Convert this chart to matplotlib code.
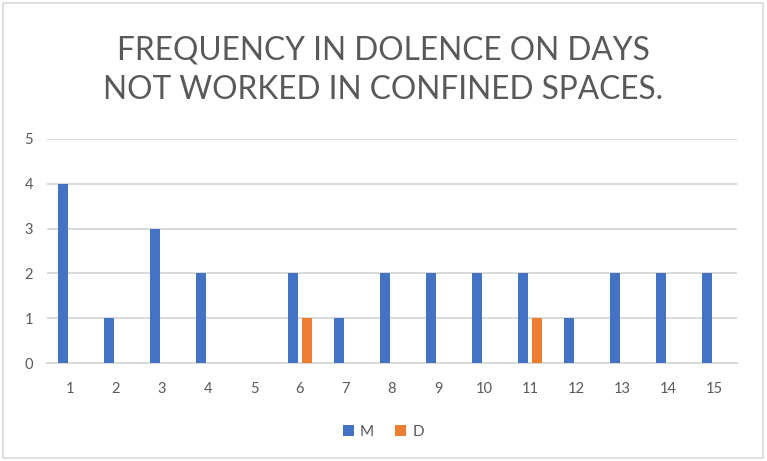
import matplotlib
matplotlib.use("Agg")
import matplotlib.pyplot as plt
import numpy as np
from matplotlib.patches import Rectangle

days = [str(i) for i in range(1, 16)]
m_values = [4, 1, 3, 2, 0, 2, 1, 2, 2, 2, 2, 1, 2, 2, 2]
d_values = [0, 0, 0, 0, 0, 1, 0, 0, 0, 0, 1, 0, 0, 0, 0]
y_ticks = [0, 1, 2, 3, 4, 5]
title = "FREQUENCY IN DOLENCE ON DAYS\nNOT WORKED IN CONFINED SPACES."

blue = "#4472C4"
orange = "#ED7D31"
text_gray = "#595959"
grid_gray = "#D9D9D9"

plt.rcParams["font.family"] = ["Lato", "DejaVu Sans"]

fig = plt.figure(figsize=(7.67, 4.61), dpi=100)
fig.patch.set_facecolor("white")
# outer chart frame
fig.patches.append(Rectangle((3 / 767, 3 / 461), 760 / 767, 455 / 461,
                             transform=fig.transFigure, fill=False,
                             edgecolor="#D9D9D9", linewidth=1.2))

ax = fig.add_axes([47 / 767, (461 - 363) / 461, (737 - 47) / 767, (363 - 139) / 461])
x = np.arange(1, len(days) + 1)
w = 0.23
off = 0.148
ax.bar(x - off, m_values, width=w, color=blue, label="M", zorder=3)
ax.bar(x + off, d_values, width=w, color=orange, label="D", zorder=3)

ax.set_xlim(0.5, len(days) + 0.5)
ax.set_ylim(0, 5)
ax.set_yticks(y_ticks)
ax.set_xticks(x)
ax.set_xticklabels(days)
ax.yaxis.grid(True, color=grid_gray, linewidth=1.4, zorder=0)
ax.set_axisbelow(True)
for s in ["top", "right", "left"]:
    ax.spines[s].set_visible(False)
ax.spines["bottom"].set_color(grid_gray)
ax.spines["bottom"].set_linewidth(1.4)
ax.tick_params(axis="both", length=0, colors=text_gray, labelsize=10.5)
ax.tick_params(axis="y", pad=10)
ax.tick_params(axis="x", pad=14)

fig.text(0.5, 1 - 70 / 461, title, ha="center", va="center",
         fontsize=22.8, color=text_gray, linespacing=1.4)

fig.legend(loc="center", bbox_to_anchor=(0.5, 1 - 432 / 461), ncol=2,
           frameon=False, fontsize=11, labelcolor=text_gray,
           handlelength=0.7, handleheight=0.7, handletextpad=0.4,
           columnspacing=1.4)

fig.savefig("out.png", dpi=100)
